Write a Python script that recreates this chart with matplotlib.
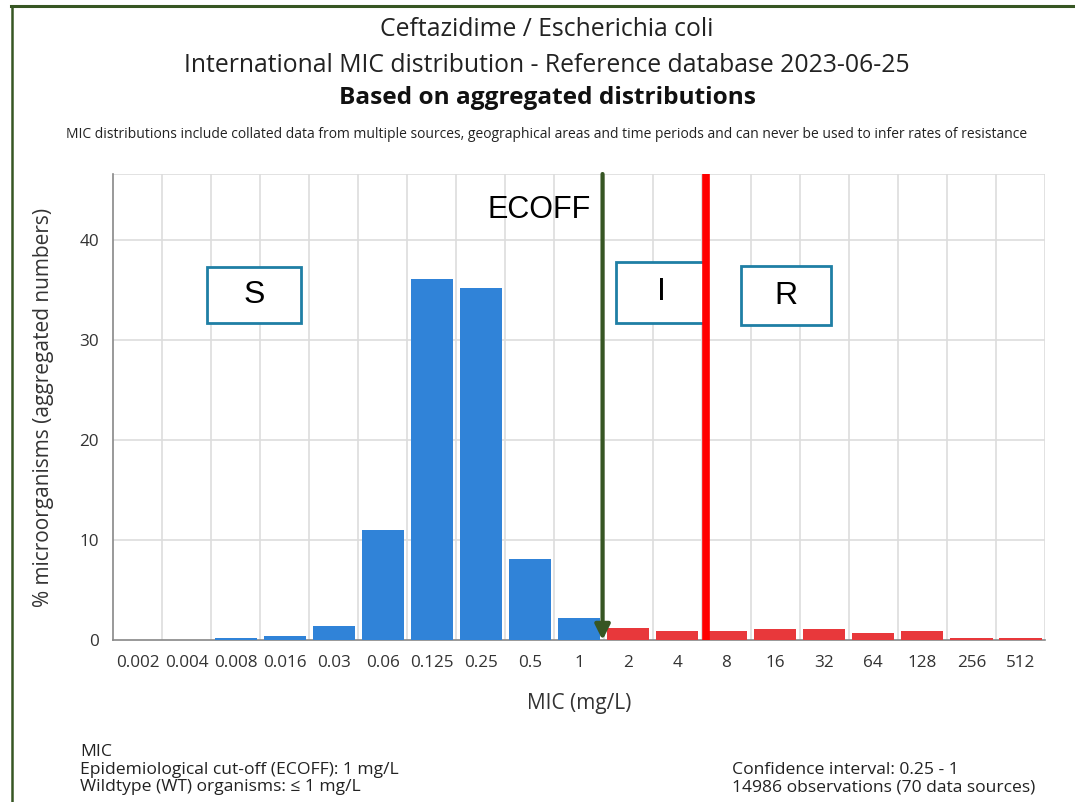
import matplotlib
matplotlib.use("Agg")
import matplotlib.pyplot as plt
from matplotlib.patches import Rectangle
from matplotlib.lines import Line2D

plt.rcParams['font.family'] = ['Open Sans', 'DejaVu Sans']

mic_labels = ["0.002", "0.004", "0.008", "0.016", "0.03", "0.06", "0.125", "0.25", "0.5", "1",
              "2", "4", "8", "16", "32", "64", "128", "256", "512"]
percent = [0.0, 0.0, 0.17, 0.4, 1.37, 11.0, 36.1, 35.2, 8.1, 2.17,
           1.2, 0.93, 0.93, 1.1, 1.1, 0.7, 0.93, 0.17, 0.17]
ecoff_index = 9          # last wildtype category (1 mg/L)
breakpoint_pos = 11.58   # clinical breakpoint line between 4 and 8

blue = "#3083D8"
red = "#E8383B"

fig = plt.figure(figsize=(10.75, 8.02), dpi=100)
ax = fig.add_axes([113/1075, 1-640/802, (1045-113)/1075, (640-174)/802])

x = list(range(len(mic_labels)))
colors = [blue if i <= ecoff_index else red for i in x]
ax.bar(x, percent, width=0.86, color=colors, zorder=3)

ax.set_xlim(-0.5, len(mic_labels) - 0.5)
ax.set_ylim(0, 46.6)
ax.set_yticks([0, 10, 20, 30, 40])
ax.set_xticks(x)
ax.set_xticklabels(mic_labels)
ax.tick_params(axis='both', length=0, labelsize=12.3, colors="#333333")
ax.tick_params(axis='x', pad=11)
ax.tick_params(axis='y', pad=10)

# grid
for g in [10, 20, 30, 40, 46.6]:
    ax.axhline(g, color="#dddddd", lw=1.2, zorder=0)
for b in range(len(mic_labels)):
    ax.axvline(b + 0.5, color="#dddddd", lw=1.2, zorder=0)

for s in ["top", "right"]:
    ax.spines[s].set_visible(False)
ax.spines["left"].set_color("#888888")
ax.spines["bottom"].set_color("#888888")
ax.spines["left"].set_linewidth(1.2)
ax.spines["bottom"].set_linewidth(1.2)

ax.set_ylabel("% microorganisms (aggregated numbers)", fontsize=15, color="#333333", labelpad=18)
ax.set_xlabel("MIC (mg/L)", fontsize=15, color="#333333", labelpad=16)

# ECOFF arrow
ecoff_x = ecoff_index + 0.48
ax.annotate("", xy=(ecoff_x, 0), xytext=(ecoff_x, 46.6),
            arrowprops=dict(arrowstyle="-|>,head_length=0.9,head_width=0.45",
                            color="#375623", lw=3, shrinkA=0, shrinkB=0),
            zorder=6, annotation_clip=False)
ax.text(ecoff_x - 0.25, 43.0, "ECOFF", fontsize=22, ha="right", va="center",
        family=["Liberation Sans", "DejaVu Sans"], zorder=6)

# breakpoint line
ax.plot([breakpoint_pos, breakpoint_pos], [0, 46.6], color="#FF0000", lw=5.5,
        zorder=7, solid_capstyle="butt", clip_on=False)

# S / I / R boxes
def px_to_x(px):
    return (px - 113) / ((1045 - 113) / 19) - 0.5

def py_to_y(py):
    return (640 - py) / 10.0

def sir_box(x0, x1, y0, y1, label):
    ax.add_patch(Rectangle((x0, y0), x1 - x0, y1 - y0, facecolor="white",
                           edgecolor="#1F7FA5", lw=2, zorder=5))
    ax.text((x0 + x1) / 2, (y0 + y1) / 2, label, fontsize=23, ha="center", va="center",
            family=["Liberation Sans", "DejaVu Sans"], zorder=6)

sir_box(px_to_x(207), px_to_x(301), py_to_y(323), py_to_y(267), "S")
sir_box(px_to_x(616), px_to_x(706), py_to_y(323), py_to_y(262), "I")
sir_box(px_to_x(741), px_to_x(831), py_to_y(325), py_to_y(266), "R")

# titles
fig.text(547/1075, 1-30/802, "Ceftazidime / Escherichia coli", ha="center", va="center",
         fontsize=17.8, color="#222222")
fig.text(547/1075, 1-65/802, "International MIC distribution - Reference database 2023-06-25",
         ha="center", va="center", fontsize=17.8, color="#222222")
fig.text(547/1075, 1-98/802, "Based on aggregated distributions", ha="center", va="center",
         fontsize=17.6, fontweight="bold", color="#111111")
fig.text(547/1075, 1-134/802,
         "MIC distributions include collated data from multiple sources, geographical areas and time periods and can never be used to infer rates of resistance",
         ha="center", va="center", fontsize=10, color="#222222")

# footer
fs = 12.6
fig.text(80/1075, 1-752/802, "MIC", ha="left", va="center", fontsize=fs, color="#222222")
fig.text(80/1075, 1-770/802, "Epidemiological cut-off (ECOFF): 1 mg/L", ha="left", va="center",
         fontsize=fs, color="#222222")
fig.text(80/1075, 1-787/802, "Wildtype (WT) organisms: \u2264 1 mg/L", ha="left", va="center",
         fontsize=fs, color="#222222")
fig.text(732/1075, 1-770/802, "Confidence interval: 0.25 - 1", ha="left", va="center",
         fontsize=fs, color="#222222")
fig.text(732/1075, 1-787/802, "14986 observations (70 data sources)", ha="left", va="center",
         fontsize=fs, color="#222222")

# outer frame lines (dark green)
fig.add_artist(Line2D([11/1075, 1], [1-6/802, 1-6/802], color="#375623", lw=2.2,
                      transform=fig.transFigure))
fig.add_artist(Line2D([11.5/1075, 11.5/1075], [0, 1-6/802], color="#375623", lw=1.8,
                      transform=fig.transFigure))

fig.savefig("out.png", dpi=100)
